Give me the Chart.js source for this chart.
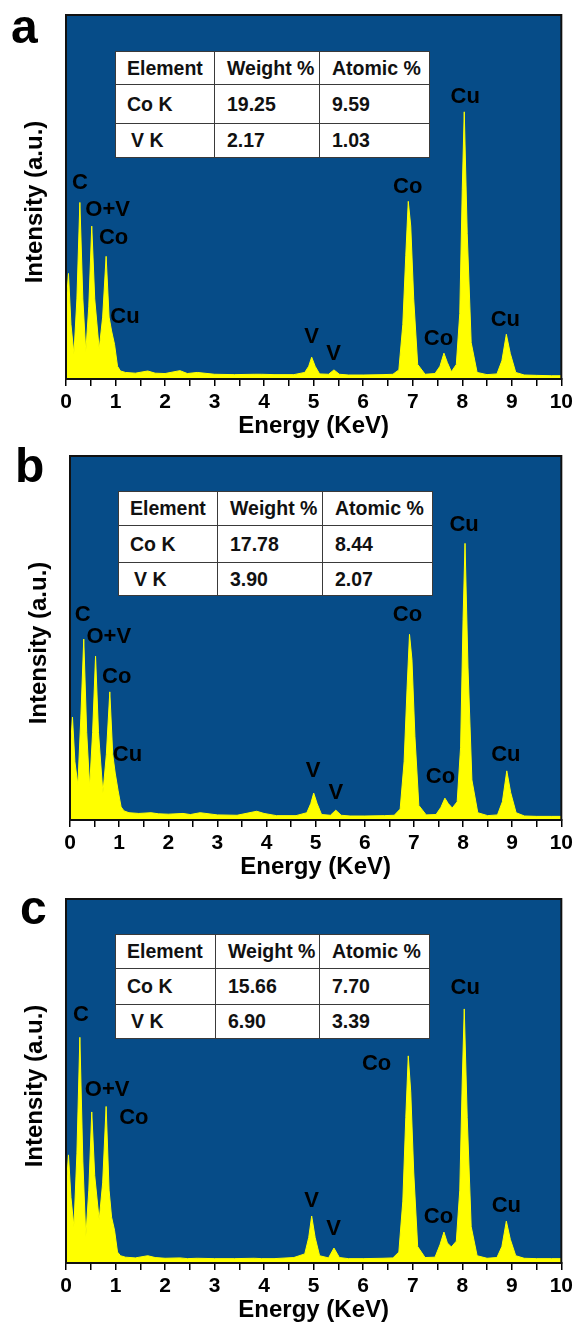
<!DOCTYPE html>
<html>
<head>
<meta charset="utf-8">
<script src="https://cdn.jsdelivr.net/npm/chart.js@4.4.0/dist/chart.umd.min.js"></script>
<style>
body { margin:0; background:#fff; width:577px; height:1327px; position:relative; overflow:hidden; font-family:'Liberation Sans', Arial, sans-serif; }
.panel { position:absolute; left:0; width:577px; }
table.eds { position:absolute; border-collapse:collapse; table-layout:fixed; background:#fff; font-weight:bold; font-size:19.5px; color:#111; }
table.eds td { border:1.5px solid #3a3a3a; padding:0 0 0 12px; white-space:nowrap; overflow:hidden; }
</style>
</head>
<body>
<div class="panel" style="top:0;height:441px"><canvas id="chartA"></canvas></div>
<div class="panel" style="top:441px;height:441px"><canvas id="chartB"></canvas></div>
<div class="panel" style="top:884px;height:443px"><canvas id="chartC"></canvas></div>
<script>
// energy grid (keV), shared by the three spectra
var energy = [
  0, 0.05, 0.1, 0.16, 0.22, 0.28, 0.34, 0.4, 0.46, 0.52,
  0.58, 0.67, 0.74, 0.81, 0.87, 0.92, 0.98, 1.04, 1.1, 1.2,
  1.4, 1.65, 1.8, 2.0, 2.3, 2.45, 2.65, 3.0, 3.4, 3.8,
  3.95, 4.2, 4.6, 4.82, 4.9, 4.96, 5.03, 5.12, 5.3, 5.41,
  5.52, 5.7, 6.0, 6.4, 6.6, 6.72, 6.8, 6.86, 6.91, 6.96,
  7.02, 7.1, 7.25, 7.45, 7.55, 7.63, 7.7, 7.78, 7.88, 7.95,
  8.0, 8.04, 8.1, 8.18, 8.3, 8.5, 8.7, 8.8, 8.89, 8.97,
  9.08, 9.25, 9.5, 9.8, 10
];
// intensities (a.u., 100 = top of plot)
var intensityA = [
  20, 29, 15, 6.8, 22, 48.5, 22, 7.4, 20, 42,
  22, 8.2, 17, 33.7, 17, 13.2, 9.5, 3.5, 2.2, 1.8,
  1.6, 2.2, 1.6, 1.5, 2.3, 1.5, 1.8, 1.3, 1.2, 1.3,
  1.3, 1.2, 1.2, 1.8, 3.5, 6, 3.5, 1.4, 1.3, 2.5,
  1.3, 1.1, 1.1, 1.2, 1.3, 2.5, 15, 34, 48.8, 42,
  22, 4, 1.3, 1.5, 3.5, 7.1, 4.5, 2, 4, 18,
  52, 73.4, 40, 10, 1.8, 1.2, 1.4, 5, 12.3, 7,
  1.8, 1.1, 1.0, 0.9, 0.9
];
var intensityB = [
  18, 28.3, 16, 9.6, 28, 49.7, 24, 9.1, 24, 45,
  24, 7.4, 18, 35.2, 18, 12.9, 8, 3.6, 2.5, 2.0,
  1.8, 2.0, 1.7, 1.6, 1.8, 1.5, 2.0, 1.4, 1.3, 2.4,
  1.8, 1.2, 1.2, 2, 4.5, 7.4, 4.5, 1.5, 1.3, 2.7,
  1.3, 1.1, 1.1, 1.2, 1.3, 3, 16, 36, 51, 44,
  23, 4, 1.4, 1.5, 3.5, 6, 4.5, 3.3, 5, 20,
  55, 76, 42, 11, 2, 1.2, 1.4, 5, 13.5, 7.5,
  2, 1.1, 1.0, 1.0, 1.0
];
var intensityC = [
  20, 29.7, 18, 9.9, 30, 62, 28, 7.1, 20, 41.5,
  24, 11.8, 22, 43, 20, 12.6, 9, 3, 2, 1.6,
  1.4, 2.0, 1.5, 1.3, 1.4, 1.2, 1.3, 1.2, 1.2, 1.3,
  1.2, 1.2, 1.5, 2.5, 7, 12.9, 7, 2, 1.4, 4.1,
  1.5, 1.2, 1.2, 1.3, 1.4, 3, 17, 40, 56.9, 47,
  25, 4.5, 1.5, 1.6, 5, 8.5, 5.5, 4.4, 6, 20,
  50, 69.8, 40, 10, 2, 1.3, 1.5, 4.5, 11.5, 6.5,
  2, 1.3, 1.2, 1.2, 1.2
];

// peak labels: name, energy, intensity where the label sits
var peakNamesA = ['C', 'O+V', 'Co', 'Cu', 'V', 'V', 'Co', 'Co', 'Cu', 'Cu'];
var peakEA = [0.28, 0.84, 0.96, 1.19, 4.96, 5.4, 6.9, 7.52, 8.06, 8.87];
var peakIA = [53.8, 46.4, 38.7, 17.0, 11.5, 6.9, 52.7, 11.0, 77.5, 16.2];
var peakNamesB = ['C', 'O+V', 'Co', 'Cu', 'V', 'V', 'Co', 'Co', 'Cu', 'Cu'];
var peakEB = [0.26, 0.79, 0.95, 1.17, 4.95, 5.41, 6.87, 7.54, 8.02, 8.87];
var peakIB = [56.3, 50.3, 39.3, 17.9, 13.5, 7.4, 56.3, 11.8, 81, 17.9];
var peakNamesC = ['C', 'O+V', 'Co', 'V', 'V', 'Co', 'Co', 'Cu', 'Cu'];
var peakEC = [0.3, 0.83, 1.37, 4.96, 5.4, 6.27, 7.52, 8.06, 8.89];
var peakIC = [68.1, 47.5, 39.8, 17.0, 9.3, 54.7, 12.6, 75.5, 15.7];

// quantification tables
var tableHead = ['Element', 'Weight %', 'Atomic %'];
var tableElements = ['Co K', 'V K'];
var weightA = ['19.25', '2.17'], atomicA = ['9.59', '1.03'];
var weightB = ['17.78', '3.90'], atomicB = ['8.44', '2.07'];
var weightC = ['15.66', '6.90'], atomicC = ['7.70', '3.39'];

var FONT = "'Liberation Sans', Arial, sans-serif";
var BLUE = '#064c88';
var YELLOW = '#ffff00';

function decor(cfg) {
  return {
    id: 'decor',
    beforeDraw: function (chart) {
      var a = chart.chartArea, ctx = chart.ctx;
      ctx.save();
      ctx.fillStyle = BLUE;
      ctx.fillRect(a.left, a.top, a.right - a.left, a.bottom - a.top);
      ctx.restore();
    },
    afterDatasetsDraw: function (chart) {
      var a = chart.chartArea, ctx = chart.ctx;
      var x = chart.scales.x, y = chart.scales.y;
      ctx.save();
      ctx.strokeStyle = '#111';
      ctx.lineWidth = 2;
      ctx.strokeRect(a.left, a.top, a.right - a.left, a.bottom - a.top);
      ctx.fillStyle = '#000';
      ctx.font = 'bold 22px ' + FONT;
      ctx.textAlign = 'center';
      ctx.textBaseline = 'middle';
      for (var i = 0; i < cfg.names.length; i++) {
        ctx.fillText(cfg.names[i], x.getPixelForValue(cfg.e[i]), y.getPixelForValue(cfg.i[i]));
      }
      ctx.font = 'bold 48px ' + FONT;
      ctx.textAlign = 'left';
      ctx.textBaseline = 'alphabetic';
      ctx.fillText(cfg.letter, cfg.lx, cfg.ly);
      ctx.translate(a.left - 24, (a.top + a.bottom) / 2 + 5);
      ctx.rotate(-Math.PI / 2);
      ctx.font = 'bold 24px ' + FONT;
      ctx.textAlign = 'center';
      ctx.fillText('Intensity (a.u.)', 0, 0);
      ctx.restore();
    }
  };
}

function makeChart(id, values, cfg) {
  var pts = energy.map(function (e, k) { return { x: e, y: values[k] }; });
  return new Chart(document.getElementById(id), {
    type: 'line',
    data: {
      datasets: [{
        data: pts,
        fill: 'origin',
        backgroundColor: YELLOW,
        borderColor: YELLOW,
        borderWidth: 1,
        pointRadius: 0,
        tension: 0
      }]
    },
    options: {
      responsive: true,
      maintainAspectRatio: false,
      animation: false,
      layout: { padding: { left: cfg.left, right: cfg.right, top: 15, bottom: 0 } },
      plugins: { legend: { display: false }, tooltip: { enabled: false } },
      scales: {
        x: {
          type: 'linear', min: 0, max: 10,
          ticks: {
            stepSize: 0.5, autoSkip: false, maxRotation: 0, color: '#000', padding: 4,
            font: { family: FONT, size: 21, weight: 'bold' },
            callback: function (v) { return Number.isInteger(v) ? v : ''; }
          },
          grid: { drawOnChartArea: false, drawTicks: true, tickLength: 7, color: '#000', lineWidth: 1.5 },
          border: { display: true, color: '#000', width: 2 },
          title: {
            display: true, text: 'Energy (KeV)', color: '#000',
            font: { family: FONT, size: 24, weight: 'bold' },
            padding: { top: 0, bottom: cfg.axisH - 62 }
          },
          afterFit: function (s) { s.height = cfg.axisH; }
        },
        y: { display: false, min: 0, max: 100 }
      }
    },
    plugins: [decor(cfg)]
  });
}

makeChart('chartA', intensityA, { left: 66, right: 15, axisH: 62, names: peakNamesA, e: peakEA, i: peakIA, letter: 'a', lx: 11, ly: 43 });
makeChart('chartB', intensityB, { left: 70, right: 12, axisH: 62, names: peakNamesB, e: peakEB, i: peakIB, letter: 'b', lx: 15, ly: 41 });
makeChart('chartC', intensityC, { left: 66, right: 15, axisH: 64, names: peakNamesC, e: peakEC, i: peakIC, letter: 'c', lx: 20, ly: 40 });

function makeTable(left, top, colW, rowH, weight, atomic) {
  var t = document.createElement('table');
  t.className = 'eds';
  t.style.left = left + 'px';
  t.style.top = top + 'px';
  t.style.width = colW.reduce(function (s, w) { return s + w; }, 0) + 'px';
  var cg = document.createElement('colgroup');
  colW.forEach(function (w) { var c = document.createElement('col'); c.style.width = w + 'px'; cg.appendChild(c); });
  t.appendChild(cg);
  var rows = [tableHead];
  for (var r = 0; r < tableElements.length; r++) rows.push([tableElements[r], weight[r], atomic[r]]);
  rows.forEach(function (row, r) {
    var tr = document.createElement('tr');
    tr.style.height = rowH[r] + 'px';
    row.forEach(function (txt, c) {
      var td = document.createElement('td');
      td.textContent = txt;
      if (c === 0) td.style.paddingLeft = (txt === 'V K' ? 15 : 11) + 'px';
      tr.appendChild(td);
    });
    t.appendChild(tr);
  });
  document.body.appendChild(t);
}

makeTable(115, 51, [99, 105, 110], [33, 39, 34], weightA, atomicA);
makeTable(118, 491, [99, 105, 110], [34, 37, 33], weightB, atomicB);
makeTable(115, 934, [100, 104, 110], [34, 36, 34], weightC, atomicC);
</script>
</body>
</html>
